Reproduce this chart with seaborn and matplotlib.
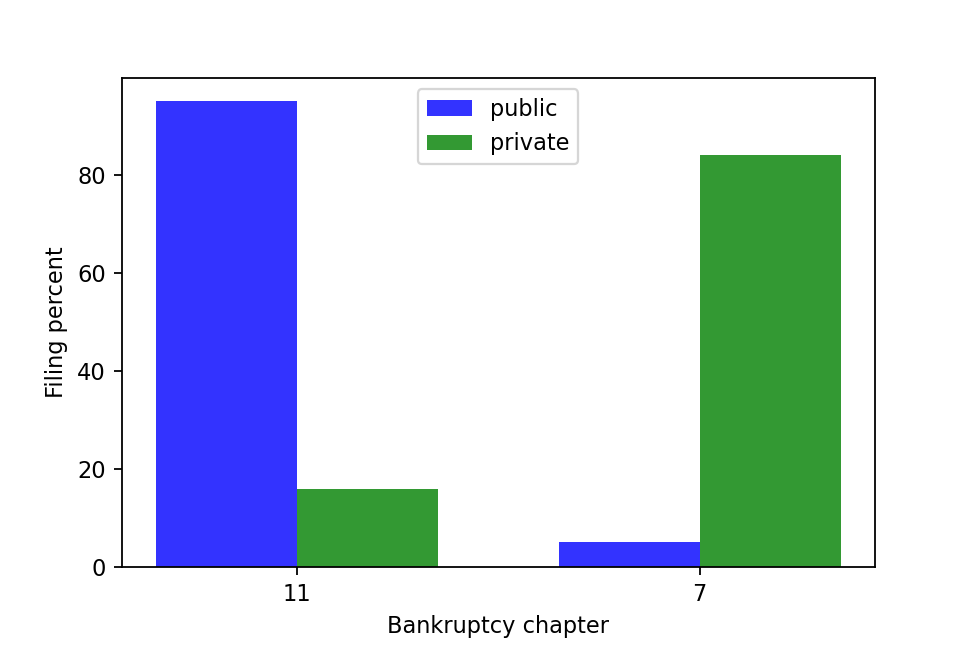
"""Bankruptcy filings by chapter, public vs private firms."""

import seaborn as sns
import matplotlib.pyplot as plt
import pandas as pd

# Data
chapters = ["11", "7"]
public_pct = [95, 5]
private_pct = [16, 84]
firm_types = ["public", "private"]

df = pd.DataFrame({
    "chapter": chapters * 2,
    "percent": public_pct + private_pct,
    "type": [firm_types[0]] * len(chapters) + [firm_types[1]] * len(chapters),
})

fig, ax = plt.subplots(figsize=(6, 4), dpi=162)
fig.subplots_adjust(left=0.125, right=0.9, bottom=0.125, top=0.88)

sns.barplot(
    data=df,
    x="chapter",
    y="percent",
    hue="type",
    order=chapters,
    hue_order=firm_types,
    palette={"public": "blue", "private": "green"},
    saturation=1,
    width=0.7,
    alpha=0.8,
    linewidth=0,
    ax=ax,
)

# bars span -0.35..1.35; use matplotlib-like 5% margins
ax.set_xlim(-0.35 - 0.085, 1.35 + 0.085)
ax.set_xlabel("Bankruptcy chapter")
ax.set_ylabel("Filing percent")
ax.legend(loc="upper center")

fig.savefig("out.png", dpi=162)
